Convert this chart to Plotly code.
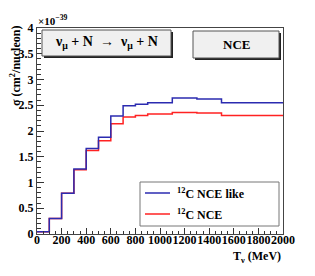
import plotly.graph_objects as go

# ---- data ----
bin_edges = [0, 100, 200, 300, 400, 500, 600, 700, 800, 900, 1100, 1300, 1500, 2000]
nce_like = [0.045, 0.30, 0.79, 1.26, 1.66, 1.88, 2.29, 2.49, 2.52, 2.55, 2.64, 2.62, 2.55]
nce = [0.045, 0.30, 0.79, 1.25, 1.62, 1.81, 2.14, 2.27, 2.30, 2.33, 2.36, 2.35, 2.30]
series_names = ["<sup>12</sup>C NCE like", "<sup>12</sup>C NCE"]
x_ticks = [0, 200, 400, 600, 800, 1000, 1200, 1400, 1600, 1800, 2000]
y_ticks = [0, 0.5, 1, 1.5, 2, 2.5, 3, 3.5, 4]

BLUE = "#2b2bb0"
RED = "#ff2222"
FONT = "Liberation Serif"

W, H = 315, 276
L, R, T, B = 37, 283, 28, 234


def px(x):
    return (x - L) / (R - L)


def py(y):
    return (B - y) / (B - T)


fig = go.Figure()
fig.add_trace(go.Scatter(x=bin_edges, y=nce + [nce[-1]], mode="lines",
                         line=dict(color=RED, width=1.5, shape="hv"),
                         showlegend=False, name=series_names[1]))
fig.add_trace(go.Scatter(x=bin_edges, y=nce_like + [nce_like[-1]], mode="lines",
                         line=dict(color=BLUE, width=1.5, shape="hv"),
                         showlegend=False, name=series_names[0]))

shapes = []


def box(x0, y0, x1, y1, fill, line, shadow=True):
    if shadow:
        shapes.append(dict(type="rect", xref="paper", yref="paper",
                           x0=px(x0 + 2), x1=px(x1 + 2), y0=py(y1 + 2), y1=py(y0 + 2),
                           fillcolor="#222222", line=dict(width=0), layer="above"))
    shapes.append(dict(type="rect", xref="paper", yref="paper",
                       x0=px(x0), x1=px(x1), y0=py(y1), y1=py(y0),
                       fillcolor=fill, line=dict(color=line, width=1), layer="above"))


box(42, 30, 171, 56, "#f0f0f0", "#555555")
box(193, 31, 279, 58, "#f0f0f0", "#555555")
box(140, 182, 279, 226, "white", "#777777", shadow=False)

# legend line samples
for yy, col in [(193, BLUE), (214, RED)]:
    shapes.append(dict(type="line", xref="paper", yref="paper",
                       x0=px(145), x1=px(170), y0=py(yy), y1=py(yy),
                       line=dict(color=col, width=1.5), layer="above"))

bold = dict(family=FONT, size=12, color="black", weight="bold")
ann = []
ann.append(dict(text="ν<sub>μ</sub> + N  →  ν<sub>μ</sub> + N", x=px(106), y=py(43),
                xref="paper", yref="paper", showarrow=False,
                xanchor="center", yanchor="middle",
                font=dict(family=FONT, size=14, color="black", weight="bold")))
ann.append(dict(text="NCE", x=px(236), y=py(45), xref="paper", yref="paper", showarrow=False,
                xanchor="center", yanchor="middle",
                font=dict(family=FONT, size=13, color="black", weight="bold")))
ann.append(dict(text=series_names[0], x=px(175), y=py(193), xref="paper", yref="paper",
                xanchor="left", yanchor="middle", showarrow=False, font=bold))
ann.append(dict(text=series_names[1], x=px(175), y=py(214), xref="paper", yref="paper",
                xanchor="left", yanchor="middle", showarrow=False, font=bold))
ann.append(dict(text="×10<sup>−39</sup>", x=px(36), y=py(20), xref="paper", yref="paper",
                xanchor="left", yanchor="middle", showarrow=False,
                font=dict(family=FONT, size=11, color="black", weight="bold")))
ann.append(dict(text="σ (cm<sup>2</sup>/nucleon)", x=px(15), y=py(66), xref="paper", yref="paper",
                xanchor="center", yanchor="middle",
                textangle=-90, showarrow=False, font=bold))
ann.append(dict(text="T<sub>ν</sub> (MeV)", x=px(283), y=py(257), xref="paper", yref="paper",
                xanchor="right", yanchor="middle", showarrow=False, font=bold))

fig.update_layout(
    width=W, height=H,
    margin=dict(l=L, r=W - R, t=T, b=H - B),
    paper_bgcolor="white", plot_bgcolor="white",
    shapes=shapes, annotations=ann,
    font=dict(family=FONT, color="black"),
)
fig.update_xaxes(range=[0, 2000], tickvals=x_ticks, tickformat="d", tickangle=0,
                 ticks="inside", ticklen=6, tickcolor="#333", tickwidth=1,
                 minor=dict(dtick=50, ticks="inside", ticklen=3, tickcolor="#333"),
                 showgrid=False, zeroline=False, showline=True, mirror=True,
                 linecolor="#444", linewidth=1, ticklabelstandoff=-5,
                 tickfont=dict(family=FONT, size=12, color="black", weight="bold"))
fig.update_yaxes(range=[0, 4], tickvals=y_ticks, tickangle=0,
                 ticks="inside", ticklen=7, tickcolor="#333", tickwidth=1,
                 minor=dict(dtick=0.1, ticks="inside", ticklen=4, tickcolor="#333"),
                 showgrid=False, zeroline=False, showline=True, mirror=True,
                 linecolor="#444", linewidth=1, ticklabelstandoff=0,
                 tickfont=dict(family=FONT, size=12, color="black", weight="bold"))

fig.write_html("out.html", config={"displayModeBar": False},
               post_script="document.body.style.margin='0';")
